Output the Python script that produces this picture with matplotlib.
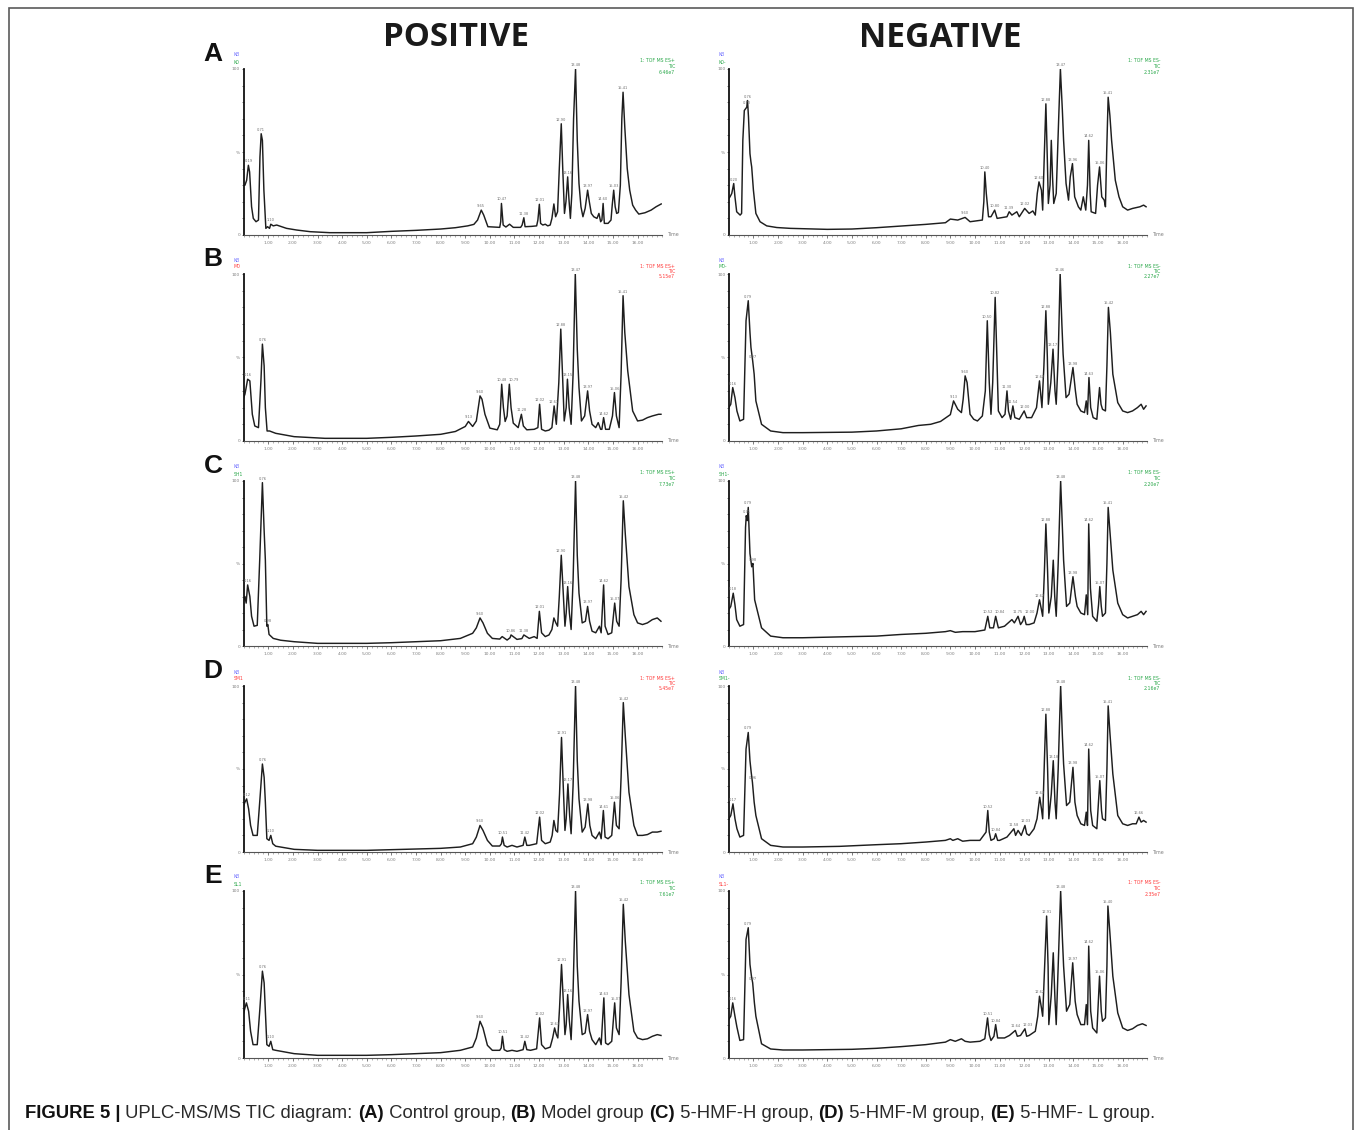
import numpy as np
import matplotlib
matplotlib.use("Agg")
import matplotlib.pyplot as plt
from matplotlib import font_manager
from matplotlib.font_manager import FontProperties
from matplotlib.patches import Rectangle

W, H = 1355, 1130

### Data: (retention time [min], relative intensity [%])
A_POS = [(0.00, 30), (0.05, 30), (0.12, 33), (0.19, 42), (0.24, 38), (0.32, 17), (0.39, 10), (0.50, 8),
         (0.60, 9), (0.66, 47), (0.71, 61), (0.76, 57), (0.82, 27), (0.90, 4), (0.97, 5), (1.05, 4),
         (1.10, 6.5), (1.20, 5.5), (1.34, 6), (1.74, 4), (2.15, 3), (2.70, 2), (3.50, 1.4), (5.00, 1.4),
         (6.00, 2.2), (7.00, 2.8), (8.00, 3.6), (8.60, 4.4), (9.10, 5.5), (9.35, 6.4), (9.50, 9), (9.65, 15),
         (9.75, 12), (9.92, 5), (10.40, 4.6), (10.44, 8), (10.47, 19), (10.54, 6), (10.65, 4.8), (10.80, 6.5),
         (10.95, 4.6), (11.25, 4.6), (11.31, 6), (11.38, 10.4), (11.43, 5), (11.70, 5.2), (11.90, 5.5),
         (11.95, 9), (12.01, 18.5), (12.06, 7), (12.15, 6), (12.25, 6.5), (12.35, 5.5), (12.45, 6),
         (12.52, 10), (12.60, 18.7), (12.67, 11), (12.75, 14), (12.82, 40), (12.90, 67), (12.96, 40),
         (13.03, 13), (13.09, 20), (13.16, 35), (13.21, 22), (13.27, 10), (13.33, 25), (13.40, 70),
         (13.48, 100), (13.55, 57), (13.62, 31), (13.70, 17), (13.78, 11), (13.87, 16), (13.97, 27),
         (14.04, 20), (14.12, 13), (14.22, 11), (14.35, 10), (14.43, 13), (14.50, 8), (14.55, 9),
         (14.60, 19), (14.65, 7), (14.80, 7), (14.92, 9), (14.97, 18), (15.03, 27), (15.09, 17),
         (15.15, 13), (15.22, 13.5), (15.30, 30), (15.36, 70), (15.41, 86), (15.48, 65), (15.58, 40),
         (15.68, 27), (15.80, 18), (15.92, 15), (16.05, 12.6), (16.30, 13.4), (16.55, 15), (16.75, 17),
         (16.96, 18.7)]
A_NEG = [(0.00, 22), (0.05, 23), (0.12, 25), (0.20, 31), (0.25, 23), (0.32, 14), (0.46, 12), (0.52, 13),
         (0.57, 57), (0.63, 75), (0.73, 77), (0.76, 81), (0.80, 71), (0.86, 49), (0.90, 44), (0.93, 41),
         (1.00, 27), (1.10, 13), (1.27, 8), (1.54, 5.5), (1.95, 4.5), (2.50, 4), (4.00, 3.4), (5.00, 3.6),
         (6.00, 4.4), (7.00, 5.4), (8.00, 6.4), (8.80, 7.4), (9.00, 9.6), (9.30, 9), (9.60, 10.6),
         (9.80, 8), (10.30, 9), (10.36, 20), (10.40, 38), (10.46, 25), (10.55, 11), (10.65, 11),
         (10.80, 15), (10.90, 10), (11.30, 11), (11.39, 14), (11.50, 12), (11.70, 14), (11.80, 11),
         (12.02, 16), (12.20, 13), (12.35, 14.5), (12.45, 12), (12.53, 25), (12.60, 32), (12.70, 27),
         (12.75, 15), (12.82, 50), (12.88, 79), (12.94, 45), (12.98, 19), (13.05, 30), (13.10, 57),
         (13.15, 35), (13.20, 19), (13.30, 25), (13.40, 70), (13.47, 100), (13.55, 75), (13.60, 57),
         (13.70, 31), (13.80, 21), (13.87, 35), (13.96, 43), (14.05, 23), (14.20, 17), (14.30, 15),
         (14.40, 23), (14.50, 15), (14.57, 30), (14.62, 57), (14.68, 25), (14.72, 14), (14.90, 13),
         (14.98, 30), (15.06, 41), (15.15, 23), (15.25, 21), (15.30, 17), (15.35, 50), (15.41, 83),
         (15.48, 72), (15.55, 57), (15.70, 33), (15.85, 23), (16.00, 17), (16.20, 15), (16.40, 16),
         (16.70, 17), (16.85, 18), (16.95, 17)]
B_POS = [(0.00, 26), (0.05, 28), (0.10, 32), (0.16, 37), (0.25, 36), (0.35, 16), (0.45, 9), (0.60, 8),
         (0.70, 36), (0.76, 58), (0.83, 45), (0.88, 20), (0.95, 6), (1.05, 6), (1.30, 4.6), (2.05, 2.6),
         (3.30, 1.6), (5.00, 1.6), (6.00, 2.2), (7.00, 3), (8.00, 4), (8.60, 5.7), (9.00, 8.7), (9.13, 11.7),
         (9.30, 8.7), (9.45, 12), (9.55, 22), (9.60, 27), (9.68, 25), (9.80, 16), (10.00, 7.7),
         (10.30, 6.7), (10.40, 10), (10.48, 34), (10.55, 20), (10.62, 11.7), (10.70, 15), (10.79, 34),
         (10.86, 20), (10.95, 10.7), (11.15, 8), (11.28, 16), (11.36, 9), (11.50, 6.7), (11.80, 7),
         (11.95, 8), (12.02, 22), (12.10, 7), (12.25, 6), (12.40, 6.5), (12.52, 8), (12.61, 21),
         (12.70, 10), (12.80, 35), (12.88, 67), (12.95, 40), (13.02, 12), (13.10, 20), (13.15, 37),
         (13.22, 20), (13.30, 10), (13.38, 40), (13.47, 100), (13.55, 55), (13.62, 32), (13.72, 12),
         (13.85, 15), (13.97, 30), (14.05, 18), (14.15, 10), (14.30, 8), (14.40, 11), (14.50, 7),
         (14.55, 7), (14.62, 14), (14.70, 7), (14.85, 7), (14.98, 15), (15.06, 29), (15.14, 15),
         (15.25, 8), (15.33, 40), (15.41, 87), (15.48, 65), (15.60, 42), (15.80, 18), (16.00, 12),
         (16.20, 12.5), (16.40, 14), (16.60, 15), (16.85, 16), (16.95, 16)]
B_NEG = [(0.00, 20), (0.08, 22), (0.16, 32), (0.25, 26), (0.33, 18), (0.45, 12), (0.60, 13), (0.70, 72),
         (0.79, 84), (0.86, 65), (0.90, 56), (0.97, 48), (1.03, 40), (1.10, 24), (1.33, 10), (1.70, 6),
         (2.20, 5), (3.00, 5), (5.00, 5.3), (6.00, 6), (7.00, 7.3), (7.70, 9.3), (8.20, 10), (8.60, 11.7),
         (9.00, 15.8), (9.13, 24), (9.30, 19), (9.45, 17), (9.52, 25), (9.60, 39), (9.68, 35), (9.80, 16),
         (9.95, 13), (10.10, 12), (10.30, 15), (10.42, 30), (10.50, 72), (10.58, 35), (10.65, 16),
         (10.72, 35), (10.82, 86), (10.89, 50), (10.95, 18), (11.10, 14), (11.22, 16), (11.30, 30),
         (11.36, 18), (11.45, 13), (11.54, 21), (11.62, 14), (11.80, 13), (12.00, 18), (12.10, 14),
         (12.30, 14), (12.50, 20), (12.62, 36), (12.72, 20), (12.80, 45), (12.88, 78), (12.94, 50),
         (12.98, 22), (13.08, 35), (13.17, 55), (13.25, 30), (13.30, 22), (13.38, 50), (13.46, 100),
         (13.53, 70), (13.58, 52), (13.70, 26), (13.82, 28), (13.98, 44), (14.08, 30), (14.15, 22),
         (14.30, 18), (14.45, 17), (14.52, 24), (14.57, 16), (14.63, 38), (14.70, 20), (14.80, 14),
         (14.95, 13), (15.06, 32), (15.12, 22), (15.18, 19), (15.30, 18), (15.36, 45), (15.42, 80),
         (15.50, 65), (15.60, 40), (15.80, 23), (16.00, 18), (16.20, 17), (16.40, 18), (16.60, 20),
         (16.75, 22), (16.85, 19), (16.95, 21)]
C_POS = [(0.00, 28), (0.05, 30), (0.10, 26), (0.16, 37), (0.25, 30), (0.32, 18), (0.42, 12), (0.55, 12.5),
         (0.65, 52), (0.76, 99), (0.83, 70), (0.88, 52), (0.94, 12), (0.98, 13), (1.03, 7), (1.20, 4.6),
         (1.50, 3.5), (2.05, 2.6), (3.00, 1.6), (5.00, 1.6), (6.00, 2), (7.00, 2.6), (8.00, 3.2),
         (8.80, 4.6), (9.30, 7.7), (9.45, 11), (9.60, 17), (9.72, 14), (9.90, 7.7), (10.10, 4.6),
         (10.40, 4.2), (10.50, 5.7), (10.70, 3.6), (10.82, 5), (10.86, 6.7), (11.10, 4), (11.30, 4.5),
         (11.38, 6.7), (11.60, 4.6), (11.80, 5.7), (11.92, 4.6), (12.01, 21), (12.10, 8), (12.25, 5.7),
         (12.40, 6.7), (12.52, 10), (12.60, 17), (12.68, 14), (12.75, 12), (12.82, 30), (12.90, 55),
         (12.97, 35), (13.05, 12), (13.10, 20), (13.16, 36), (13.23, 20), (13.30, 10), (13.38, 40),
         (13.48, 100), (13.55, 55), (13.62, 32), (13.75, 14), (13.88, 15), (13.97, 24), (14.05, 15),
         (14.15, 9), (14.30, 8), (14.45, 12), (14.52, 8), (14.62, 37), (14.68, 12), (14.80, 7),
         (14.95, 8), (15.07, 26), (15.15, 15), (15.25, 12), (15.33, 40), (15.42, 88), (15.50, 68),
         (15.65, 36), (15.85, 19), (16.00, 14), (16.20, 13), (16.40, 14), (16.60, 16), (16.80, 17),
         (16.95, 15)]
C_NEG = [(0.00, 22), (0.08, 24), (0.18, 32), (0.25, 25), (0.32, 16), (0.45, 12), (0.60, 13), (0.68, 72),
         (0.71, 79), (0.75, 76), (0.79, 84), (0.86, 56), (0.93, 48), (0.98, 50), (1.05, 28), (1.33, 11),
         (1.70, 6), (2.20, 5), (3.00, 5), (5.00, 5.7), (6.00, 6), (7.00, 7), (8.00, 7.7), (8.80, 8.7),
         (9.00, 9.3), (9.20, 8.3), (9.50, 8.7), (10.00, 8.7), (10.40, 9.7), (10.52, 18), (10.60, 11),
         (10.75, 11), (10.84, 18), (10.95, 11), (11.20, 12), (11.50, 16), (11.60, 14), (11.75, 18),
         (11.85, 13), (11.94, 15), (12.00, 18), (12.08, 13), (12.20, 13), (12.40, 14), (12.52, 20),
         (12.62, 28), (12.70, 22), (12.75, 18), (12.82, 45), (12.88, 74), (12.95, 45), (13.00, 20),
         (13.10, 30), (13.18, 52), (13.24, 30), (13.30, 18), (13.38, 50), (13.48, 100), (13.55, 72),
         (13.60, 52), (13.72, 24), (13.85, 26), (13.98, 42), (14.08, 30), (14.15, 24), (14.30, 20),
         (14.45, 19), (14.52, 31), (14.58, 19), (14.62, 74), (14.69, 35), (14.78, 18), (14.95, 15),
         (15.02, 25), (15.07, 36), (15.13, 24), (15.18, 18), (15.30, 20), (15.36, 50), (15.41, 84),
         (15.48, 70), (15.60, 46), (15.80, 26), (16.00, 19), (16.20, 17), (16.40, 18), (16.60, 19),
         (16.75, 21), (16.85, 19), (16.95, 21)]
D_POS = [(0.00, 28), (0.05, 30), (0.12, 32), (0.20, 26), (0.28, 16), (0.38, 10), (0.55, 10), (0.66, 32),
         (0.76, 53), (0.83, 45), (0.88, 30), (0.94, 8), (1.03, 7), (1.10, 10), (1.18, 5), (1.30, 3.5),
         (2.05, 1.6), (3.00, 1), (5.00, 1), (6.00, 1.4), (7.00, 1.8), (8.00, 2.2), (8.80, 3), (9.30, 5),
         (9.45, 9), (9.60, 16), (9.72, 13), (9.90, 7), (10.10, 3.6), (10.40, 3.6), (10.47, 5),
         (10.51, 9), (10.58, 4), (10.70, 3), (10.90, 4), (11.10, 3), (11.35, 4), (11.42, 9), (11.50, 4),
         (11.60, 4), (11.90, 5), (12.02, 21), (12.10, 7), (12.25, 5), (12.45, 6), (12.53, 10),
         (12.60, 19), (12.68, 13), (12.75, 12), (12.83, 35), (12.91, 69), (12.98, 40), (13.05, 13),
         (13.10, 20), (13.17, 41), (13.24, 22), (13.30, 11), (13.38, 40), (13.48, 100), (13.55, 55),
         (13.62, 32), (13.75, 12), (13.87, 15), (13.98, 29), (14.06, 16), (14.15, 10), (14.30, 8),
         (14.45, 12), (14.52, 8), (14.61, 25), (14.68, 9), (14.80, 8), (14.95, 10), (15.06, 30),
         (15.14, 16), (15.25, 14), (15.33, 45), (15.42, 90), (15.50, 70), (15.65, 36), (15.85, 16),
         (16.00, 10), (16.20, 10), (16.40, 10.5), (16.60, 12), (16.80, 12), (16.95, 12.5)]
D_NEG = [(0.00, 20), (0.08, 22), (0.17, 29), (0.25, 20), (0.33, 14), (0.45, 9), (0.60, 10), (0.70, 62),
         (0.79, 72), (0.86, 55), (0.91, 48), (0.96, 42), (1.03, 30), (1.10, 22), (1.33, 8), (1.70, 4),
         (2.20, 3), (3.00, 3), (4.50, 3.4), (6.00, 4.4), (7.00, 5), (8.00, 6), (8.80, 7), (9.00, 8),
         (9.10, 7), (9.30, 8), (9.50, 6.5), (9.80, 7), (10.20, 7), (10.45, 12), (10.52, 25), (10.58, 12),
         (10.65, 7), (10.78, 8), (10.84, 11), (10.92, 7), (11.00, 7), (11.30, 9), (11.58, 14),
         (11.65, 10), (11.75, 13), (11.88, 10), (12.03, 16), (12.10, 11), (12.20, 10), (12.40, 14),
         (12.52, 20), (12.63, 33), (12.70, 26), (12.75, 20), (12.82, 55), (12.88, 83), (12.95, 50),
         (13.00, 20), (13.10, 35), (13.18, 55), (13.25, 30), (13.30, 20), (13.38, 50), (13.48, 100),
         (13.55, 70), (13.60, 53), (13.72, 28), (13.85, 30), (13.98, 51), (14.06, 30), (14.15, 22),
         (14.30, 17), (14.45, 16), (14.52, 24), (14.57, 16), (14.62, 62), (14.70, 25), (14.78, 16),
         (14.95, 14), (15.07, 43), (15.14, 25), (15.18, 20), (15.30, 19), (15.36, 50), (15.41, 88),
         (15.48, 72), (15.60, 47), (15.80, 22), (16.00, 17), (16.20, 16), (16.40, 17), (16.55, 17),
         (16.66, 21), (16.75, 18), (16.85, 19), (16.95, 18)]
E_POS = [(0.00, 27), (0.05, 30), (0.11, 33), (0.20, 28), (0.28, 16), (0.38, 8), (0.55, 8), (0.66, 30),
         (0.76, 52), (0.83, 45), (0.88, 28), (0.94, 8), (1.03, 7), (1.10, 10), (1.18, 5), (1.30, 4.6),
         (2.05, 2.6), (3.00, 1.6), (5.00, 1.6), (6.00, 2), (7.00, 2.6), (8.00, 3.2), (8.80, 4.6),
         (9.30, 6.6), (9.45, 12), (9.60, 22), (9.72, 18), (9.90, 7.6), (10.10, 4.6), (10.40, 4.6),
         (10.46, 6), (10.51, 13), (10.58, 5), (10.70, 4), (10.90, 4.6), (11.10, 4), (11.35, 5),
         (11.42, 10), (11.50, 5), (11.65, 4.6), (11.90, 5.5), (12.02, 24), (12.10, 8), (12.25, 5.5),
         (12.45, 6.5), (12.55, 12), (12.63, 18), (12.70, 14), (12.76, 12), (12.83, 30), (12.91, 56),
         (12.98, 35), (13.05, 14), (13.10, 20), (13.16, 38), (13.23, 22), (13.30, 11), (13.38, 40),
         (13.48, 100), (13.55, 55), (13.62, 34), (13.75, 14), (13.87, 15), (13.97, 26), (14.05, 16),
         (14.15, 11), (14.30, 8), (14.45, 12), (14.52, 8), (14.63, 36), (14.70, 9), (14.80, 8),
         (14.95, 10), (15.07, 33), (15.14, 18), (15.25, 14), (15.33, 45), (15.42, 92), (15.50, 70),
         (15.65, 38), (15.85, 16), (16.00, 12), (16.20, 11), (16.40, 11.5), (16.60, 13), (16.80, 14),
         (16.95, 13.5)]
E_NEG = [(0.00, 23), (0.08, 25), (0.16, 33), (0.25, 25), (0.33, 18.5), (0.45, 10.5), (0.60, 11),
         (0.70, 71), (0.79, 78), (0.86, 56), (0.92, 49), (0.97, 45), (1.04, 33), (1.10, 25), (1.33, 8.5),
         (1.70, 5.4), (2.20, 4.8), (3.00, 4.8), (5.00, 5.2), (6.00, 5.8), (7.00, 6.8), (8.00, 8),
         (8.80, 9.5), (9.00, 11), (9.20, 10), (9.45, 11.5), (9.60, 10), (9.80, 9.5), (10.20, 10),
         (10.40, 11.5), (10.51, 24), (10.58, 14), (10.65, 10.5), (10.77, 13), (10.84, 20), (10.92, 12),
         (11.20, 12), (11.40, 13.5), (11.64, 16.5), (11.72, 13), (11.85, 13.5), (12.03, 17.5),
         (12.10, 13), (12.20, 13.5), (12.45, 16), (12.55, 25), (12.62, 37), (12.70, 30), (12.75, 25),
         (12.83, 55), (12.91, 85), (12.97, 55), (13.00, 20), (13.10, 38), (13.18, 63), (13.25, 35),
         (13.30, 20), (13.38, 55), (13.48, 100), (13.55, 72), (13.60, 55), (13.72, 28), (13.85, 32),
         (13.97, 57), (14.07, 34), (14.15, 26), (14.30, 20), (14.45, 20), (14.52, 32), (14.57, 20),
         (14.62, 67), (14.70, 28), (14.78, 18), (14.95, 15), (15.06, 49), (15.13, 28), (15.18, 22),
         (15.30, 24), (15.36, 55), (15.40, 91), (15.48, 75), (15.60, 49), (15.80, 27), (16.00, 18),
         (16.20, 16.5), (16.40, 17.5), (16.60, 19.5), (16.80, 20.5), (16.95, 19.5)]

### Peak labels (retention times printed above the peaks)
A_POS_PK = ["0.19", "0.71", "1.10", "9.65", "10.47", "11.38", "12.01", "12.90", "13.16", "13.48",
            "13.97", "14.60", "15.03", "15.41"]
A_NEG_PK = ["0.20", "0.73", "0.76", "9.60", "10.40", "10.80", "11.39", "12.02", "12.60", "12.88",
            "13.47", "13.96", "14.62", "15.06", "15.41"]
B_POS_PK = ["0.16", "0.76", "9.13", "9.60", "10.48", "10.79", "11.28", "12.02", "12.61", "12.88",
            "13.15", "13.47", "13.97", "14.62", "15.06", "15.41"]
B_NEG_PK = ["0.16", "0.79", "0.97", "9.13", "9.60", "10.50", "10.82", "11.30", "11.54", "12.00",
            "12.62", "12.88", "13.17", "13.46", "13.98", "14.63", "15.42"]
C_POS_PK = ["0.16", "0.76", "0.98", "9.60", "10.86", "11.38", "12.01", "12.90", "13.16", "13.48",
            "13.97", "14.62", "15.07", "15.42"]
C_NEG_PK = ["0.18", "0.71", "0.79", "0.98", "10.52", "10.84", "11.75", "12.00", "12.62", "12.88",
            "13.48", "13.98", "14.62", "15.07", "15.41"]
D_POS_PK = ["0.12", "0.76", "1.10", "9.60", "10.51", "11.42", "12.02", "12.91", "13.17", "13.48",
            "13.98", "14.61", "15.06", "15.42"]
D_NEG_PK = ["0.17", "0.79", "0.96", "10.52", "10.84", "11.58", "12.03", "12.63", "12.88", "13.18",
            "13.48", "13.98", "14.62", "15.07", "15.41", "16.66"]
E_POS_PK = ["0.11", "0.76", "1.10", "9.60", "10.51", "11.42", "12.02", "12.63", "12.91", "13.16",
            "13.48", "13.97", "14.63", "15.07", "15.42"]
E_NEG_PK = ["0.16", "0.79", "0.97", "10.51", "10.84", "11.64", "12.03", "12.62", "12.91", "13.48",
            "13.97", "14.62", "15.06", "15.40"]

ROWS = ["A", "B", "C", "D", "E"]
SAMPLE_POS = ["K0", "M0", "SH1", "SM1", "SL1"]
SAMPLE_NEG = ["K0-", "M0-", "SH1-", "SM1-", "SL1-"]
HDR_COLOR_POS = ["green", "red", "green", "red", "green"]
HDR_COLOR_NEG = ["green", "green", "green", "green", "red"]
TIC_POS = ["6.46e7", "5.15e7", "7.73e7", "5.45e7", "7.61e7"]
TIC_NEG = ["2.31e7", "2.27e7", "2.20e7", "2.16e7", "2.35e7"]
XTICKS = [1, 2, 3, 4, 5, 6, 7, 8, 9, 10, 11, 12, 13, 14, 15, 16]

CAPTION = [("FIGURE 5 |", "bold"), (" UPLC-MS/MS TIC diagram: ", "normal"), ("(A)", "bold"),
           (" Control group, ", "normal"), ("(B)", "bold"), (" Model group ", "normal"),
           ("(C)", "bold"), (" 5-HMF-H group, ", "normal"), ("(D)", "bold"),
           (" 5-HMF-M group, ", "normal"), ("(E)", "bold"), (" 5-HMF- L group.", "normal")]

TRACES_POS = [A_POS, B_POS, C_POS, D_POS, E_POS]
TRACES_NEG = [A_NEG, B_NEG, C_NEG, D_NEG, E_NEG]
PEAKS_POS = [A_POS_PK, B_POS_PK, C_POS_PK, D_POS_PK, E_POS_PK]
PEAKS_NEG = [A_NEG_PK, B_NEG_PK, C_NEG_PK, D_NEG_PK, E_NEG_PK]

COLORS = {"green": "#2aa84a", "red": "#ff3b3b"}
PK_SIZE = 2.6


def has_font(name):
    try:
        font_manager.findfont(FontProperties(family=name), fallback_to_default=False)
        return True
    except ValueError:
        return False


def text_width(fig, renderer, s, **kw):
    # width of s in pixels, trailing/leading spaces included
    t1 = fig.text(0, 0, "|" + s + "|", **kw)
    t2 = fig.text(0, 0, "||", **kw)
    w = t1.get_window_extent(renderer).width - t2.get_window_extent(renderer).width
    t1.remove()
    t2.remove()
    return w


def px(x, y):
    return x / W, 1 - y / H


def draw_panel(fig, renderer, x0, x1, ytop, ybot, trace, peaks, sample, hdr_color, mode, tic):
    ax = fig.add_axes([x0 / W, 1 - ybot / H, (x1 - x0) / W, (ybot - ytop) / H])
    t = np.array([p[0] for p in trace])
    v = np.array([p[1] for p in trace])
    ax.plot(t, v, color="#1e1e1e", lw=1.05, solid_joinstyle="round")
    ax.set_xlim(0, 17)
    ax.set_ylim(0, 100)

    for s in ["top", "right"]:
        ax.spines[s].set_visible(False)
    ax.spines["left"].set_color("#111111")
    ax.spines["left"].set_linewidth(1.3)
    ax.spines["bottom"].set_color("#555555")
    ax.spines["bottom"].set_linewidth(0.8)

    ax.set_xticks(XTICKS)
    ax.set_xticklabels(["%.2f" % x for x in XTICKS])
    ax.set_xticks(np.arange(0, 17.01, 0.2), minor=True)
    ax.set_yticks([0, 50, 100])
    ax.set_yticklabels(["0", "%", "100"])
    ax.set_yticks(np.arange(0, 101, 10), minor=True)
    ax.tick_params(axis="x", which="major", length=2.5, width=0.6, color="#666666",
                   labelsize=3.2, labelcolor="#808080", pad=1.5)
    ax.tick_params(axis="x", which="minor", length=1.3, width=0.4, color="#777777")
    ax.tick_params(axis="y", which="both", length=1.5, width=0.5, color="#444444",
                   labelsize=3.2, labelcolor="#808080", pad=1)
    ax.text(17.25, 0, "Time", fontsize=3.4, color="#808080", ha="left", va="center")

    # peak labels; neighbours at a similar height are pushed apart so they do not collide
    min_px = text_width(fig, renderer, "00.00", fontsize=PK_SIZE) + 1.5
    min_dt = min_px / ((x1 - x0) / 17.0)
    placed = []
    for s in peaks:
        tp = float(s)
        yp = np.interp(tp, t, v)
        xl = tp
        for (xo, yo) in placed:
            if abs(yo - yp) < 3.5 and xl - xo < min_dt:
                xl = xo + min_dt
        placed.append((xl, yp))
        ax.text(xl, yp + 1.2, s, fontsize=PK_SIZE, color="#707070", ha="center", va="bottom")

    # instrument header texts
    fig.text(*px(x0 - 10, ytop - 14), "KB", fontsize=3.3, color="#6f6fff", ha="left", va="center")
    fig.text(*px(x0 - 10, ytop - 7), sample, fontsize=3.3, color=COLORS[hdr_color],
             ha="left", va="center")
    hx = x1 + 13
    fig.text(*px(hx, ytop - 8), "1: TOF MS " + mode, fontsize=3.3, color=COLORS[hdr_color],
             ha="right", va="center")
    fig.text(*px(hx, ytop - 2.5), "TIC", fontsize=3.3, color=COLORS[hdr_color], ha="right", va="center")
    fig.text(*px(hx, ytop + 3), tic, fontsize=3.3, color=COLORS[hdr_color], ha="right", va="center")
    return ax


def main():
    fig = plt.figure(figsize=(W / 100, H / 100), dpi=100)
    renderer = fig.canvas.get_renderer()

    fig.patches.append(Rectangle((9 / W, -0.02), (1353 - 9) / W, 1 - 8 / H + 0.02,
                                 transform=fig.transFigure, fill=False,
                                 ec="#5a5a5a", lw=1.2))

    ### Column titles, sized to the widths in the figure
    head_fam = "Open Sans" if has_font("Open Sans") else "DejaVu Sans"
    for label, xc, target in [("POSITIVE", 456, 146), ("NEGATIVE", 940, 163)]:
        w = text_width(fig, renderer, label, fontsize=20, family=head_fam, weight="bold")
        fs = 20 * target / w
        fig.text(*px(xc, 38), label, fontsize=fs, family=head_fam, weight="bold",
                 ha="center", va="center", color="#1a1a1a")

    row_tops = [69, 274, 481, 686, 891]
    row_bots = [235, 441, 646, 852, 1058]
    for r in range(5):
        fig.text(*px(213, row_tops[r] - 15), ROWS[r], fontsize=19, weight="bold",
                 family=["Liberation Sans", "DejaVu Sans"], ha="center", va="center", color="#111111")
        draw_panel(fig, renderer, 243.7, 662.2, row_tops[r], row_bots[r], TRACES_POS[r],
                   PEAKS_POS[r], SAMPLE_POS[r], HDR_COLOR_POS[r], "ES+", TIC_POS[r])
        draw_panel(fig, renderer, 728.8, 1147.3, row_tops[r], row_bots[r], TRACES_NEG[r],
                   PEAKS_NEG[r], SAMPLE_NEG[r], HDR_COLOR_NEG[r], "ES-", TIC_NEG[r])

    ### Caption, fitted to its width in the figure
    cap_fam = ["Liberation Sans Narrow", "Liberation Sans"] if has_font("Liberation Sans Narrow") \
        else ["Liberation Sans", "DejaVu Sans"]
    base = 13
    total = sum(text_width(fig, renderer, s, fontsize=base, family=cap_fam, weight=wt)
                for s, wt in CAPTION)
    fs = base * 1128 / total
    x = 25
    for s, wt in CAPTION:
        fig.text(*px(x, 1113), s, fontsize=fs, family=cap_fam, weight=wt,
                 color="#111111" if wt == "bold" else "#2a2a2a", ha="left", va="center")
        x += text_width(fig, renderer, s, fontsize=fs, family=cap_fam, weight=wt)

    fig.savefig("out.png", dpi=100)


if __name__ == "__main__":
    main()
